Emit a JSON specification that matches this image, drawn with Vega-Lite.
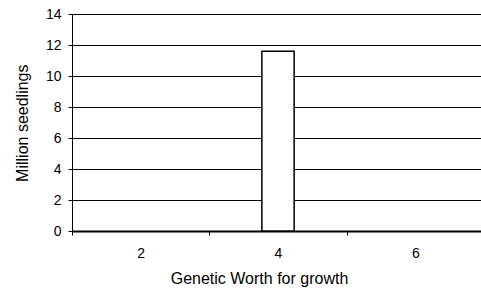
{
  "$schema": "https://vega.github.io/schema/vega-lite/v6.json",
  "autosize": {"type": "none"},
  "padding": {"left": 72, "top": 14, "right": 0, "bottom": 58},
  "width": 412,
  "height": 217,
  "background": "white",
  "config": {
    "view": {"stroke": null},
    "font": "Liberation Sans",
    "axis": {
      "labelFont": "Liberation Sans",
      "titleFont": "Liberation Sans",
      "labelFontSize": 14,
      "titleFontSize": 16,
      "titleFontWeight": "normal",
      "labelColor": "black",
      "titleColor": "black",
      "domainColor": "black",
      "tickColor": "black",
      "gridColor": "black",
      "gridOpacity": 1,
      "tickSize": 4
    }
  },
  "data": {
    "values": [
      {"worth": 2, "seedlings": 0},
      {"worth": 4, "seedlings": 11.6},
      {"worth": 6, "seedlings": 0}
    ]
  },
  "mark": {"type": "bar", "fill": "white", "stroke": "black", "strokeWidth": 1.5, "width": {"band": 0.235}},
  "encoding": {
    "x": {
      "field": "worth",
      "type": "ordinal",
      "scale": {"paddingInner": 0, "paddingOuter": 0},
      "axis": {
        "title": "Genetic Worth for growth",
        "labelAngle": 0,
        "tickBand": "extent",
        "labelPadding": 11,
        "titleX": 187,
        "titleY": 52.5,
        "titleAlign": "center",
        "titleBaseline": "alphabetic",
        "grid": false,
        "domainWidth": 2
      }
    },
    "y": {
      "field": "seedlings",
      "type": "quantitative",
      "scale": {"domain": [0, 14], "nice": false},
      "axis": {
        "title": "Million seedlings",
        "values": [0, 2, 4, 6, 8, 10, 12, 14],
        "labelPadding": 7,
        "titleX": -44.7,
        "titleY": 108.7,
        "titleAngle": -90,
        "titleAlign": "center",
        "titleBaseline": "alphabetic",
        "grid": true,
        "gridWidth": 1
      }
    },
    "strokeOpacity": {
      "condition": {"test": "datum.seedlings > 0", "value": 1},
      "value": 0
    }
  }
}
